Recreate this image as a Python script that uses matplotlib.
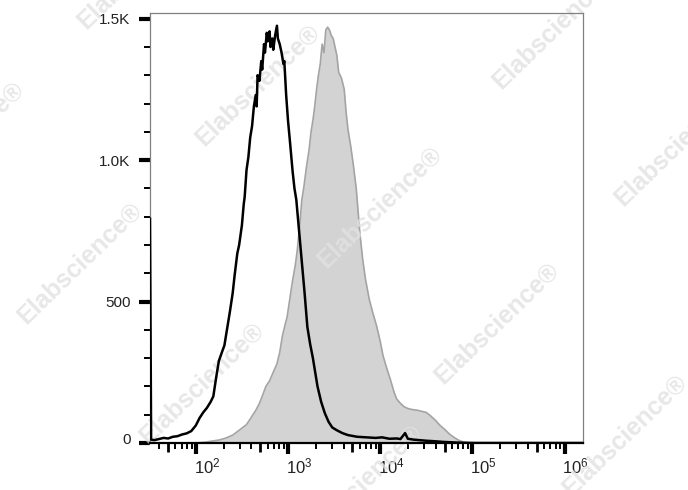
import numpy as np
import matplotlib
matplotlib.use("Agg")
import matplotlib.pyplot as plt
from matplotlib.ticker import LogLocator, FixedLocator, NullFormatter
from matplotlib.transforms import ScaledTranslation

plt.rcParams['font.family'] = ['Liberation Sans', 'DejaVu Sans']
plt.rcParams['mathtext.fontset'] = 'custom'
plt.rcParams['mathtext.rm'] = 'Liberation Sans'

# control (unstained) histogram, x given in decades (log10 of intensity)
control_decade = [1.503, 1.515, 1.55, 1.60, 1.65, 1.70, 1.75, 1.80, 1.85, 1.90, 1.95, 2.00,
                  2.04, 2.08, 2.12, 2.16, 2.19, 2.22, 2.25, 2.28, 2.31, 2.34, 2.37, 2.40,
                  2.42, 2.45, 2.47, 2.50, 2.52, 2.53, 2.55, 2.57, 2.59, 2.61, 2.63, 2.65,
                  2.66, 2.67, 2.69, 2.71, 2.72, 2.74, 2.75, 2.77, 2.78, 2.80, 2.81, 2.83,
                  2.84, 2.86, 2.88, 2.89, 2.91, 2.93, 2.95, 2.96, 2.98, 3.00, 3.02, 3.05,
                  3.07, 3.09, 3.12, 3.15, 3.18, 3.21, 3.24, 3.27, 3.30, 3.32, 3.36, 3.40,
                  3.44, 3.48, 3.53, 3.59, 3.65, 3.70, 3.75, 3.85, 3.95, 4.02, 4.10, 4.18,
                  4.22, 4.27, 4.30, 4.36, 4.43, 4.50, 4.60, 4.68, 4.80, 4.95, 6.20]
control_count = [793, 12, 10, 14, 18, 16, 22, 24, 30, 34, 42, 62,
                 88, 108, 124, 145, 165, 230, 290, 318, 345, 405, 465, 530,
                 590, 670, 700, 770, 845, 870, 965, 1010, 1080, 1120, 1190, 1230,
                 1190, 1300, 1280, 1350, 1320, 1410, 1380, 1450, 1420, 1455, 1400, 1430,
                 1390, 1440, 1475, 1430, 1410, 1380, 1340, 1350, 1230, 1140, 1070, 960,
                 900, 860, 750, 640, 530, 410, 350, 300, 240, 200, 145, 105,
                 75, 55, 45, 35, 28, 25, 22, 20, 18, 20, 15, 16,
                 14, 35, 15, 12, 10, 8, 6, 4, 2, 0, 0]

# stained sample histogram
sample_decade = [2.00, 2.10, 2.20, 2.26, 2.33, 2.40, 2.47, 2.55, 2.60, 2.65, 2.69, 2.72,
                 2.76, 2.80, 2.84, 2.88, 2.91, 2.94, 2.97, 2.99, 3.02, 3.05, 3.08, 3.10,
                 3.13, 3.15, 3.17, 3.20, 3.23, 3.25, 3.27, 3.29, 3.31, 3.33, 3.35, 3.37,
                 3.39, 3.41, 3.43, 3.45, 3.47, 3.49, 3.51, 3.53, 3.55, 3.58, 3.61, 3.63,
                 3.65, 3.68, 3.71, 3.74, 3.76, 3.78, 3.81, 3.84, 3.88, 3.92, 3.96, 4.00,
                 4.03, 4.07, 4.11, 4.15, 4.18, 4.22, 4.26, 4.30, 4.35, 4.40, 4.45, 4.50,
                 4.55, 4.60, 4.65, 4.70, 4.75, 4.80, 4.85, 4.90, 5.00, 5.10]
sample_count = [0, 3, 8, 11, 18, 28, 45, 65, 90, 115, 140, 165,
                200, 220, 250, 280, 320, 380, 420, 445, 510, 575, 630, 680,
                780, 860, 900, 975, 1040, 1100, 1140, 1190, 1250, 1300, 1340, 1410,
                1380, 1460, 1470, 1460, 1440, 1430, 1400, 1370, 1310, 1290, 1250, 1170,
                1110, 1050, 980, 900, 820, 740, 650, 580, 510, 460, 415, 360,
                310, 265, 225, 180, 155, 140, 128, 122, 118, 116, 112, 108,
                95, 80, 62, 48, 32, 20, 10, 4, 1, 0]

y_ticks = [0, 500, 1000, 1500]
y_tick_labels = ["0", "500", "1.0K", "1.5K"]
watermark = "Elabscience\u00ae"

fig = plt.figure(figsize=(6.88, 4.90), dpi=100)
ax = fig.add_axes([150/688, 1-443/490, 433/688, 430/490])

sx = 10 ** np.array(sample_decade)
sy = np.array(sample_count)
ax.fill_between(sx, sy, 0, color="#d3d3d3", lw=0, zorder=1)
ax.plot(sx, sy, color="#a4a4a4", lw=1.2, zorder=1.2)
ax.plot(10 ** np.array(control_decade), control_count, color="black", lw=1.8, zorder=3)

ax.set_xscale("log")
ax.set_xlim(10 ** 1.503, 10 ** 6.2)
ax.set_ylim(0, 1520)

ax.xaxis.set_major_locator(LogLocator(base=10, numticks=10))
ax.xaxis.set_minor_locator(LogLocator(base=10, subs=[2, 3, 4, 6, 7, 8, 9], numticks=20))
ax.xaxis.set_minor_formatter(NullFormatter())
ax.yaxis.set_major_locator(FixedLocator(y_ticks))
ax.set_yticklabels(y_tick_labels)
ax.yaxis.set_minor_locator(FixedLocator(np.arange(0, 1501, 100)))

ax.tick_params(which="major", direction="out", length=8, width=3, color="black",
               labelcolor="#222222")
ax.tick_params(which="minor", direction="out", length=4.2, width=1.4, color="black")
ax.tick_params(axis="y", which="major", pad=6, labelsize=11)
ax.tick_params(axis="x", which="major", pad=2, labelsize=12)

# longer ticks at 5 x 10^k
mid = ax.secondary_xaxis("bottom")
mid.xaxis.set_major_locator(LogLocator(base=10, subs=[5], numticks=20))
mid.xaxis.set_minor_locator(FixedLocator([]))
mid.tick_params(which="major", direction="out", length=6.5, width=2, color="black",
                labelbottom=False)
mid.spines["bottom"].set_visible(False)

for lab in ax.get_xticklabels():
    lab.set_transform(lab.get_transform() + ScaledTranslation(0.11, 0, fig.dpi_scale_trans))
ylabs = ax.get_yticklabels()
ylabs[0].set_transform(ylabs[0].get_transform() + ScaledTranslation(0, 0.05, fig.dpi_scale_trans))

for side in ["top", "right", "left"]:
    ax.spines[side].set_color("#808080")
    ax.spines[side].set_linewidth(0.9)
ax.spines["bottom"].set_color("black")
ax.spines["bottom"].set_linewidth(1.6)
ax.spines["bottom"].set_zorder(4)

# watermark stamps (pixel centres of the 688x490 picture)
marks = [(258, 85), (497, 323), (555, 28), (677, 145), (-38, 142), (80, 263),
         (202, 383), (380, 207), (625, 435), (360, 485), (140, -32)]
for px, py in marks:
    ax.text(px / 688, 1 - py / 490, watermark, transform=fig.transFigure,
            fontsize=18, fontweight="bold", color="#e2e2e2", alpha=0.8,
            rotation=44, ha="center", va="center", rotation_mode="anchor",
            clip_on=False, zorder=2)

fig.savefig("out.png", dpi=100)
